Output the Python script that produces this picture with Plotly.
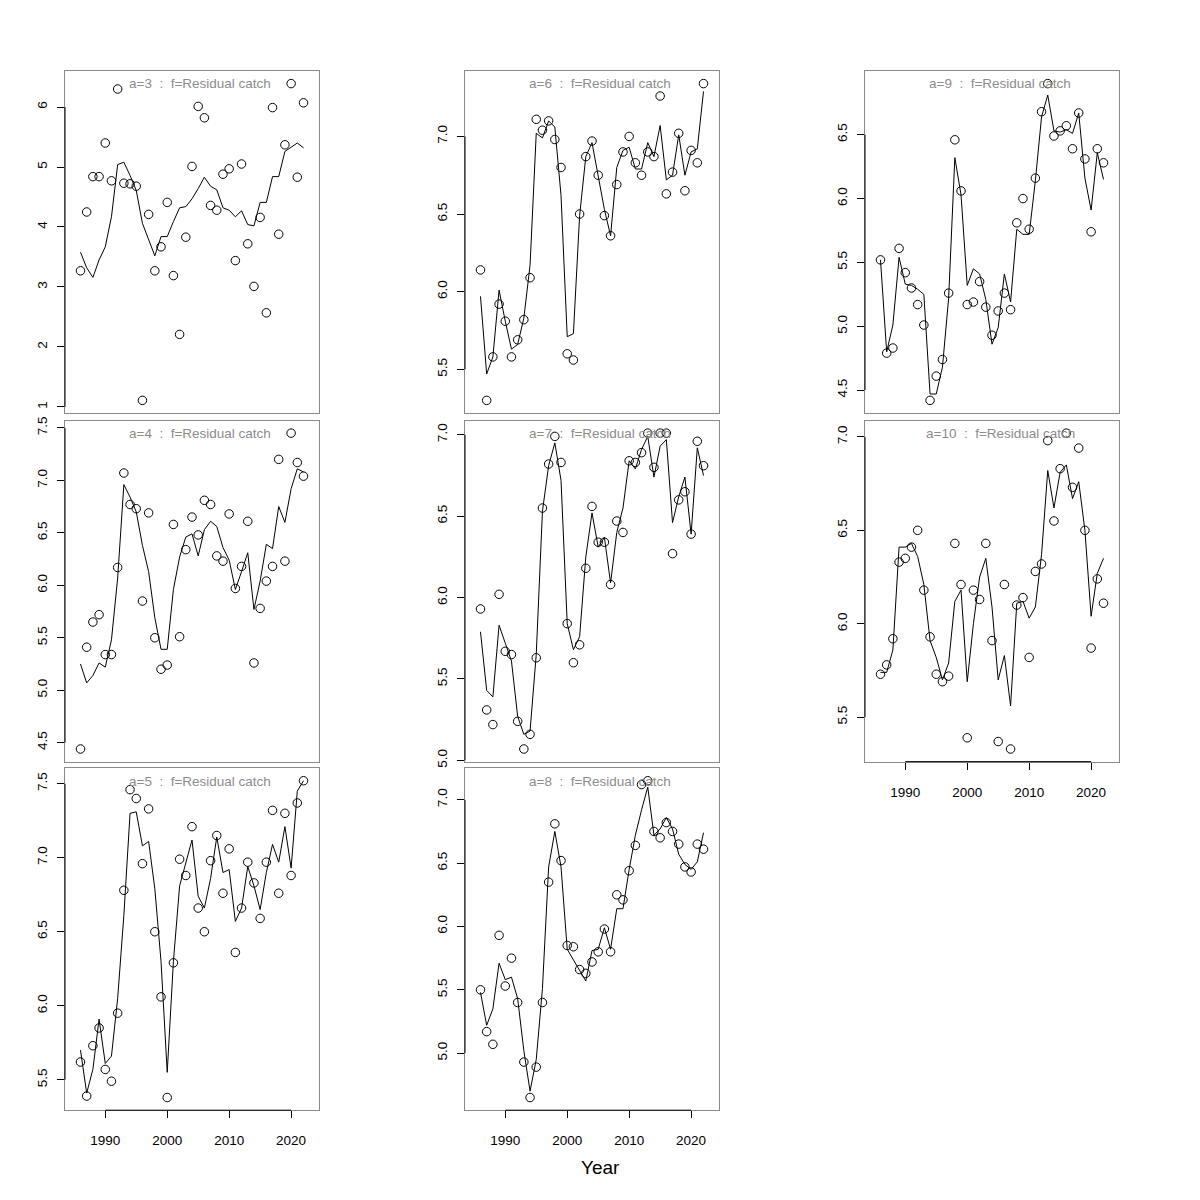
import plotly.graph_objects as go

years = [1986, 1987, 1988, 1989, 1990, 1991, 1992, 1993, 1994, 1995, 1996, 1997, 1998,
         1999, 2000, 2001, 2002, 2003, 2004, 2005, 2006, 2007, 2008, 2009, 2010, 2011,
         2012, 2013, 2014, 2015, 2016, 2017, 2018, 2019, 2020, 2021, 2022]

obs_a3 = [3.27, 4.25, 4.84, 4.84, 5.40, 4.77, 6.30, 4.73, 4.72, 4.68, 1.11, 4.21, 3.27,
          3.67, 4.41, 3.19, 2.21, 3.83, 5.01, 6.01, 5.82, 4.36, 4.28, 4.88, 4.97, 3.44,
          5.05, 3.72, 3.01, 4.16, 2.57, 5.99, 3.88, 5.37, 6.39, 4.83, 6.07]
fit_a3 = [3.58, 3.32, 3.16, 3.45, 3.67, 4.17, 5.04, 5.08, 4.86, 4.61, 4.06, 3.78, 3.52,
          3.84, 3.84, 4.09, 4.32, 4.34, 4.47, 4.64, 4.83, 4.68, 4.62, 4.32, 4.28, 4.17,
          4.27, 4.04, 4.02, 4.41, 4.41, 4.84, 4.84, 5.26, 5.33, 5.40, 5.32]

obs_a4 = [4.44, 5.41, 5.65, 5.72, 5.34, 5.34, 6.17, 7.07, 6.77, 6.73, 5.85, 6.69, 5.50,
          5.20, 5.24, 6.58, 5.51, 6.34, 6.65, 6.48, 6.81, 6.77, 6.28, 6.23, 6.68, 5.97,
          6.18, 6.61, 5.26, 5.78, 6.04, 6.18, 7.20, 6.23, 7.45, 7.17, 7.04]
fit_a4 = [5.25, 5.07, 5.14, 5.26, 5.22, 5.48, 6.07, 6.96, 6.84, 6.70, 6.38, 6.13, 5.69,
          5.39, 5.39, 5.96, 6.27, 6.46, 6.49, 6.28, 6.53, 6.61, 6.56, 6.36, 6.24, 5.96,
          6.13, 6.31, 5.77, 6.04, 6.39, 6.35, 6.75, 6.60, 6.92, 7.11, 7.08]

obs_a5 = [5.62, 5.39, 5.73, 5.85, 5.57, 5.49, 5.95, 6.78, 7.46, 7.40, 6.96, 7.33, 6.50,
          6.06, 5.38, 6.29, 6.99, 6.88, 7.21, 6.66, 6.50, 6.98, 7.15, 6.76, 7.06, 6.36,
          6.66, 6.97, 6.83, 6.59, 6.97, 7.32, 6.76, 7.30, 6.88, 7.37, 7.52]
fit_a5 = [5.70, 5.41, 5.57, 5.91, 5.61, 5.66, 6.05, 6.61, 7.30, 7.31, 7.08, 7.11, 6.79,
          6.30, 5.55, 6.30, 6.81, 6.96, 7.12, 6.74, 6.66, 6.86, 7.14, 6.90, 6.92, 6.57,
          6.66, 6.94, 6.81, 6.65, 6.90, 7.09, 6.97, 7.21, 6.93, 7.45, 7.52]

obs_a6 = [6.14, 5.30, 5.58, 5.92, 5.81, 5.58, 5.69, 5.82, 6.09, 7.11, 7.04, 7.10, 6.98,
          6.80, 5.60, 5.56, 6.50, 6.87, 6.97, 6.75, 6.49, 6.36, 6.69, 6.90, 7.00, 6.83,
          6.75, 6.90, 6.87, 7.26, 6.63, 6.77, 7.02, 6.65, 6.91, 6.83, 7.34]
fit_a6 = [5.97, 5.47, 5.58, 6.01, 5.81, 5.63, 5.66, 5.83, 6.17, 7.02, 6.99, 7.10, 7.06,
          6.62, 5.71, 5.73, 6.49, 6.87, 6.96, 6.74, 6.53, 6.36, 6.80, 6.91, 6.93, 6.79,
          6.79, 6.96, 6.87, 7.07, 6.72, 6.75, 7.01, 6.75, 6.90, 6.92, 7.29]

obs_a7 = [5.93, 5.31, 5.22, 6.02, 5.67, 5.65, 5.24, 5.07, 5.16, 5.63, 6.55, 6.82, 6.99,
          6.83, 5.84, 5.60, 5.71, 6.18, 6.56, 6.34, 6.34, 6.08, 6.47, 6.40, 6.84, 6.83,
          6.89, 7.01, 6.80, 7.01, 7.01, 6.27, 6.60, 6.65, 6.39, 6.96, 6.81]
fit_a7 = [5.79, 5.43, 5.39, 5.83, 5.72, 5.61, 5.27, 5.16, 5.18, 5.65, 6.53, 6.81, 6.95,
          6.72, 5.84, 5.68, 5.76, 6.25, 6.52, 6.31, 6.37, 6.09, 6.40, 6.55, 6.84, 6.79,
          6.91, 6.99, 6.74, 6.93, 6.97, 6.46, 6.62, 6.74, 6.39, 6.92, 6.75]

obs_a8 = [5.50, 5.17, 5.07, 5.93, 5.53, 5.75, 5.40, 4.93, 4.65, 4.89, 5.40, 6.35, 6.81,
          6.52, 5.85, 5.84, 5.66, 5.63, 5.72, 5.80, 5.98, 5.80, 6.25, 6.21, 6.44, 6.64,
          7.12, 7.15, 6.75, 6.70, 6.82, 6.75, 6.65, 6.47, 6.43, 6.65, 6.61]
fit_a8 = [5.48, 5.22, 5.35, 5.71, 5.58, 5.60, 5.43, 5.02, 4.70, 4.95, 5.51, 6.47, 6.75,
          6.47, 5.82, 5.74, 5.65, 5.57, 5.81, 5.82, 5.99, 5.82, 6.14, 6.14, 6.45, 6.72,
          6.92, 7.10, 6.72, 6.77, 6.86, 6.77, 6.57, 6.49, 6.45, 6.51, 6.74]

obs_a9 = [5.52, 4.79, 4.83, 5.61, 5.42, 5.30, 5.17, 5.01, 4.42, 4.61, 4.74, 5.26, 6.46,
          6.06, 5.17, 5.19, 5.35, 5.15, 4.93, 5.12, 5.26, 5.13, 5.81, 6.00, 5.76, 6.16,
          6.68, 6.90, 6.49, 6.53, 6.57, 6.39, 6.67, 6.31, 5.74, 6.39, 6.28]
fit_a9 = [5.52, 4.80, 5.01, 5.54, 5.33, 5.32, 5.29, 5.25, 4.47, 4.47, 4.68, 5.22, 6.32,
          6.03, 5.32, 5.45, 5.41, 5.21, 4.86, 4.99, 5.41, 5.19, 5.76, 5.72, 5.72, 6.14,
          6.64, 6.81, 6.53, 6.52, 6.54, 6.51, 6.67, 6.16, 5.91, 6.36, 6.15]

obs_a10 = [5.73, 5.78, 5.92, 6.33, 6.35, 6.41, 6.50, 6.18, 5.93, 5.73, 5.69, 5.72, 6.43,
           6.21, 5.39, 6.18, 6.13, 6.43, 5.91, 5.37, 6.21, 5.33, 6.10, 6.14, 5.82, 6.28,
           6.32, 6.98, 6.55, 6.83, 7.02, 6.73, 6.94, 6.50, 5.87, 6.24, 6.11]
fit_a10 = [5.74, 5.74, 5.86, 6.41, 6.41, 6.43, 6.36, 6.21, 5.91, 5.82, 5.70, 5.79, 6.12,
           6.18, 5.69, 6.00, 6.25, 6.35, 6.09, 5.70, 5.83, 5.56, 6.11, 6.12, 6.03, 6.09,
           6.37, 6.82, 6.62, 6.81, 6.85, 6.67, 6.76, 6.50, 6.04, 6.27, 6.35]

ages = [3, 4, 5, 6, 7, 8, 9, 10]
obs_list = [obs_a3, obs_a4, obs_a5, obs_a6, obs_a7, obs_a8, obs_a9, obs_a10]
fit_list = [fit_a3, fit_a4, fit_a5, fit_a6, fit_a7, fit_a8, fit_a9, fit_a10]
ytick_list = [[1, 2, 3, 4, 5, 6],
              [4.5, 5.0, 5.5, 6.0, 6.5, 7.0, 7.5],
              [5.5, 6.0, 6.5, 7.0, 7.5],
              [5.5, 6.0, 6.5, 7.0],
              [5.0, 5.5, 6.0, 6.5, 7.0],
              [5.0, 5.5, 6.0, 6.5, 7.0],
              [4.5, 5.0, 5.5, 6.0, 6.5],
              [5.5, 6.0, 6.5, 7.0]]
xticks = [1990, 2000, 2010, 2020]
title_fmt = "a={}\u00a0\u00a0:\u00a0\u00a0f=Residual catch"
xlabel = "Year"

# layout geometry (pixels in a 1200x1200 page)
W = H = 1200
col_px = [(65, 319.3), (465, 719.3), (865, 1119.3)]
row_px = [(67.5, 412.5), (420, 764), (770.5, 1115.5)]
# panel position (col, row) for each age
pos = [(0, 0), (0, 1), (0, 2), (1, 0), (1, 1), (1, 2), (2, 0), (2, 1)]

FONT = "Liberation Sans, Arial, Helvetica, sans-serif"
BOX = "#8a8a8a"

fig = go.Figure()
layout = dict(width=W, height=H, margin=dict(l=0, r=0, t=0, b=0),
              paper_bgcolor="white", plot_bgcolor="white", showlegend=False,
              font=dict(family=FONT, size=13, color="black"))
shapes = []
annotations = []

for i, age in enumerate(ages):
    c, r = pos[i]
    n = i + 1
    xa = "x" if n == 1 else f"x{n}"
    ya = "y" if n == 1 else f"y{n}"
    xkey = "xaxis" if n == 1 else f"xaxis{n}"
    ykey = "yaxis" if n == 1 else f"yaxis{n}"
    obs = obs_list[i]
    fit = fit_list[i]
    lo, hi = min(obs), max(obs)
    pad = 0.04 * (hi - lo)

    fig.add_trace(go.Scatter(x=years, y=fit, mode="lines", xaxis=xa, yaxis=ya,
                             line=dict(color="black", width=1), hoverinfo="skip"))
    fig.add_trace(go.Scatter(x=years, y=obs, mode="markers", xaxis=xa, yaxis=ya,
                             marker=dict(symbol="circle-open", size=8.5,
                                         color="black", line=dict(width=1))))

    x0, x1 = col_px[c]
    y0, y1 = row_px[r]
    is_bottom = (r == 2) or (age == 10)
    layout[xkey] = dict(domain=[x0 / W, x1 / W], range=[1983.5, 2024.55], anchor=ya,
                        showgrid=False, zeroline=False, showline=True, mirror=True,
                        linecolor=BOX, linewidth=1,
                        tickmode="array", tickvals=xticks if is_bottom else [],
                        ticks="outside" if is_bottom else "", ticklen=7,
                        tickcolor="black", showticklabels=is_bottom,
                        ticklabelstandoff=11,
                        tickfont=dict(size=13.5, color="black"))
    ticks = ytick_list[i]
    layout[ykey] = dict(domain=[1 - y1 / H, 1 - y0 / H], range=[lo - pad, hi + pad],
                        anchor=xa, showgrid=False, zeroline=False, showline=True,
                        mirror=True, linecolor=BOX, linewidth=1,
                        tickmode="array", tickvals=ticks,
                        ticktext=[str(t) if age == 3 else f"{t:.1f}" for t in ticks],
                        ticks="outside", ticklen=7, tickcolor="black",
                        tickangle=-90, ticklabelstandoff=5,
                        tickfont=dict(size=13.5, color="black"))
    # black axis segment between first and last tick (R style)
    shapes.append(dict(type="line", xref=f"{xa} domain", yref=ya, x0=0, x1=0,
                       y0=ticks[0], y1=ticks[-1], line=dict(color="black", width=1)))
    if is_bottom:
        shapes.append(dict(type="line", xref=xa, yref=f"{ya} domain", x0=xticks[0],
                           x1=xticks[-1], y0=0, y1=0, line=dict(color="black", width=1)))
    annotations.append(dict(text=title_fmt.format(age), xref=f"{xa} domain",
                            yref=f"{ya} domain", x=0.532, y=1, xanchor="center",
                            yanchor="middle", yshift=-13, showarrow=False,
                            font=dict(family=FONT, size=13.5, color="#8c8c8c")))

annotations.append(dict(text=xlabel, xref="paper", yref="paper", x=600 / W,
                        y=1 - 1173 / H, xanchor="center", yanchor="middle",
                        showarrow=False, font=dict(family=FONT, size=19, color="black")))
layout["shapes"] = shapes
layout["annotations"] = annotations
fig.update_layout(**layout)

fig.write_html("out.html", config={"displayModeBar": False},
               post_script="document.body.style.margin='0';")
